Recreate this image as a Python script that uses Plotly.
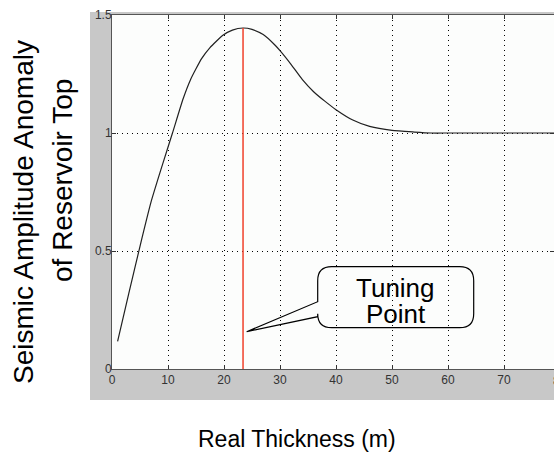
import plotly.graph_objects as go

# ---- data ----
thickness = [1, 3, 5, 7, 9, 10.8, 12.7, 14, 15, 16, 17.5, 19.8, 21.5, 23.4,
             25, 27, 29, 30, 32, 34, 36, 38, 40, 43, 46, 50, 54, 57, 60, 70, 80]
amplitude = [0.117, 0.32, 0.52, 0.71, 0.865, 1.0, 1.145, 1.225, 1.272, 1.315, 1.362,
             1.414, 1.436, 1.445, 1.439, 1.417, 1.375, 1.349, 1.29, 1.226, 1.175, 1.135,
             1.099, 1.055, 1.028, 1.011, 1.004, 1.0, 1.0, 1.0, 1.0]
tuning_x = 23.4
tuning_peak = 1.445
x_ticks = [0, 10, 20, 30, 40, 50, 60, 70]
y_ticks = [0, 0.5, 1, 1.5]
y_ticktext = ["0", "0.5", "1", "1.5"]
extra_tick = "80"

# ---- geometry helpers (pixel -> data / paper) ----
PX_X0, PX_PER_X = 112.3, 5.6
PX_Y0, PX_PER_Y = 369.3, 236.0
def dx(p): return (p - PX_X0) / PX_PER_X
def dy(p): return (PX_Y0 - p) / PX_PER_Y
def paper_x(p): return (p - 112) / 442
def paper_y(p): return (369 - p) / 354

FONT = "Liberation Sans, Arial, Helvetica, sans-serif"

fig = go.Figure()
fig.add_trace(go.Scatter(x=thickness, y=amplitude, mode="lines",
                         line=dict(color="#202020", width=1.2, shape="spline", smoothing=0.5),
                         hoverinfo="skip"))
fig.add_trace(go.Scatter(x=[tuning_x, tuning_x], y=[0, tuning_peak], mode="lines",
                         line=dict(color="#f0402a", width=1.5), hoverinfo="skip"))

axis_common = dict(showgrid=True, gridcolor="#000000", griddash="1px,4px", gridwidth=1,
                   ticks="inside", ticklen=4, tickcolor="#333333", showline=True,
                   linecolor="#555555", linewidth=1, mirror="ticks", zeroline=False,
                   tickfont=dict(family=FONT, size=12, color="#333333"))

fig.update_layout(
    width=554, height=453,
    margin=dict(l=112, r=0, t=15, b=84),
    paper_bgcolor="white", plot_bgcolor="rgba(0,0,0,0)",
    showlegend=False,
    xaxis=dict(range=[0, 442 / PX_PER_X], tickvals=x_ticks, **axis_common),
    yaxis=dict(range=[0, 1.5], tickvals=y_ticks, ticktext=y_ticktext,
               ticklabelstandoff=-3, **axis_common),
)

# gray figure background and white axes area
fig.add_shape(type="rect", xref="paper", yref="paper",
              x0=paper_x(90), x1=1.02, y0=paper_y(400), y1=paper_y(12),
              fillcolor="#c8c8c8", line=dict(width=0), layer="below")
fig.add_shape(type="rect", xref="paper", yref="paper",
              x0=0, x1=1.02, y0=0, y1=1,
              fillcolor="#fcfdfc", line=dict(width=0), layer="below")

# callout bubble
L, R, T, B, r = 318, 474, 267, 328, 14
def P(x, y): return f"{dx(x):.4f},{dy(y):.4f}"
path = (f"M {P(L + r, T)} L {P(R - r, T)} Q {P(R, T)} {P(R, T + r)} "
        f"L {P(R, B - r)} Q {P(R, B)} {P(R - r, B)} L {P(L + r, B)} "
        f"Q {P(L, B)} {P(L, B - r)} L {P(L, 317)} L {P(247, 332)} L {P(L, 302)} "
        f"L {P(L, T + r)} Q {P(L, T)} {P(L + r, T)} Z")
fig.add_shape(type="path", xref="x", yref="y", path=path,
              line=dict(color="#000000", width=1.2), fillcolor="rgba(0,0,0,0)", layer="above")

fig.add_annotation(x=dx(396), y=dy(288), text="Tuning", showarrow=False,
                   xref="x", yref="y", font=dict(family=FONT, size=26, color="#000"),
                   xanchor="center", yanchor="middle")
fig.add_annotation(x=dx(396), y=dy(314), text="Point", showarrow=False,
                   xref="x", yref="y", font=dict(family=FONT, size=26, color="#000"),
                   xanchor="center", yanchor="middle")

# partially visible 80 tick label
fig.add_annotation(x=paper_x(560), y=paper_y(381), text=extra_tick, showarrow=False,
                   xref="paper", yref="paper", font=dict(family=FONT, size=12, color="#333333"),
                   xanchor="center", yanchor="middle")

# axis titles
fig.add_annotation(x=paper_x(297), y=paper_y(439), text="Real Thickness (m)", showarrow=False,
                   xref="paper", yref="paper", font=dict(family=FONT, size=23, color="#000"),
                   xanchor="center", yanchor="middle")
fig.add_annotation(x=paper_x(24), y=paper_y(212), text="Seismic Amplitude Anomaly", showarrow=False,
                   xref="paper", yref="paper", textangle=-90,
                   font=dict(family=FONT, size=28, color="#000"),
                   xanchor="center", yanchor="middle")
fig.add_annotation(x=paper_x(62), y=paper_y(181), text="of Reservoir Top", showarrow=False,
                   xref="paper", yref="paper", textangle=-90,
                   font=dict(family=FONT, size=28, color="#000"),
                   xanchor="center", yanchor="middle")

fig.write_html("out.html")
